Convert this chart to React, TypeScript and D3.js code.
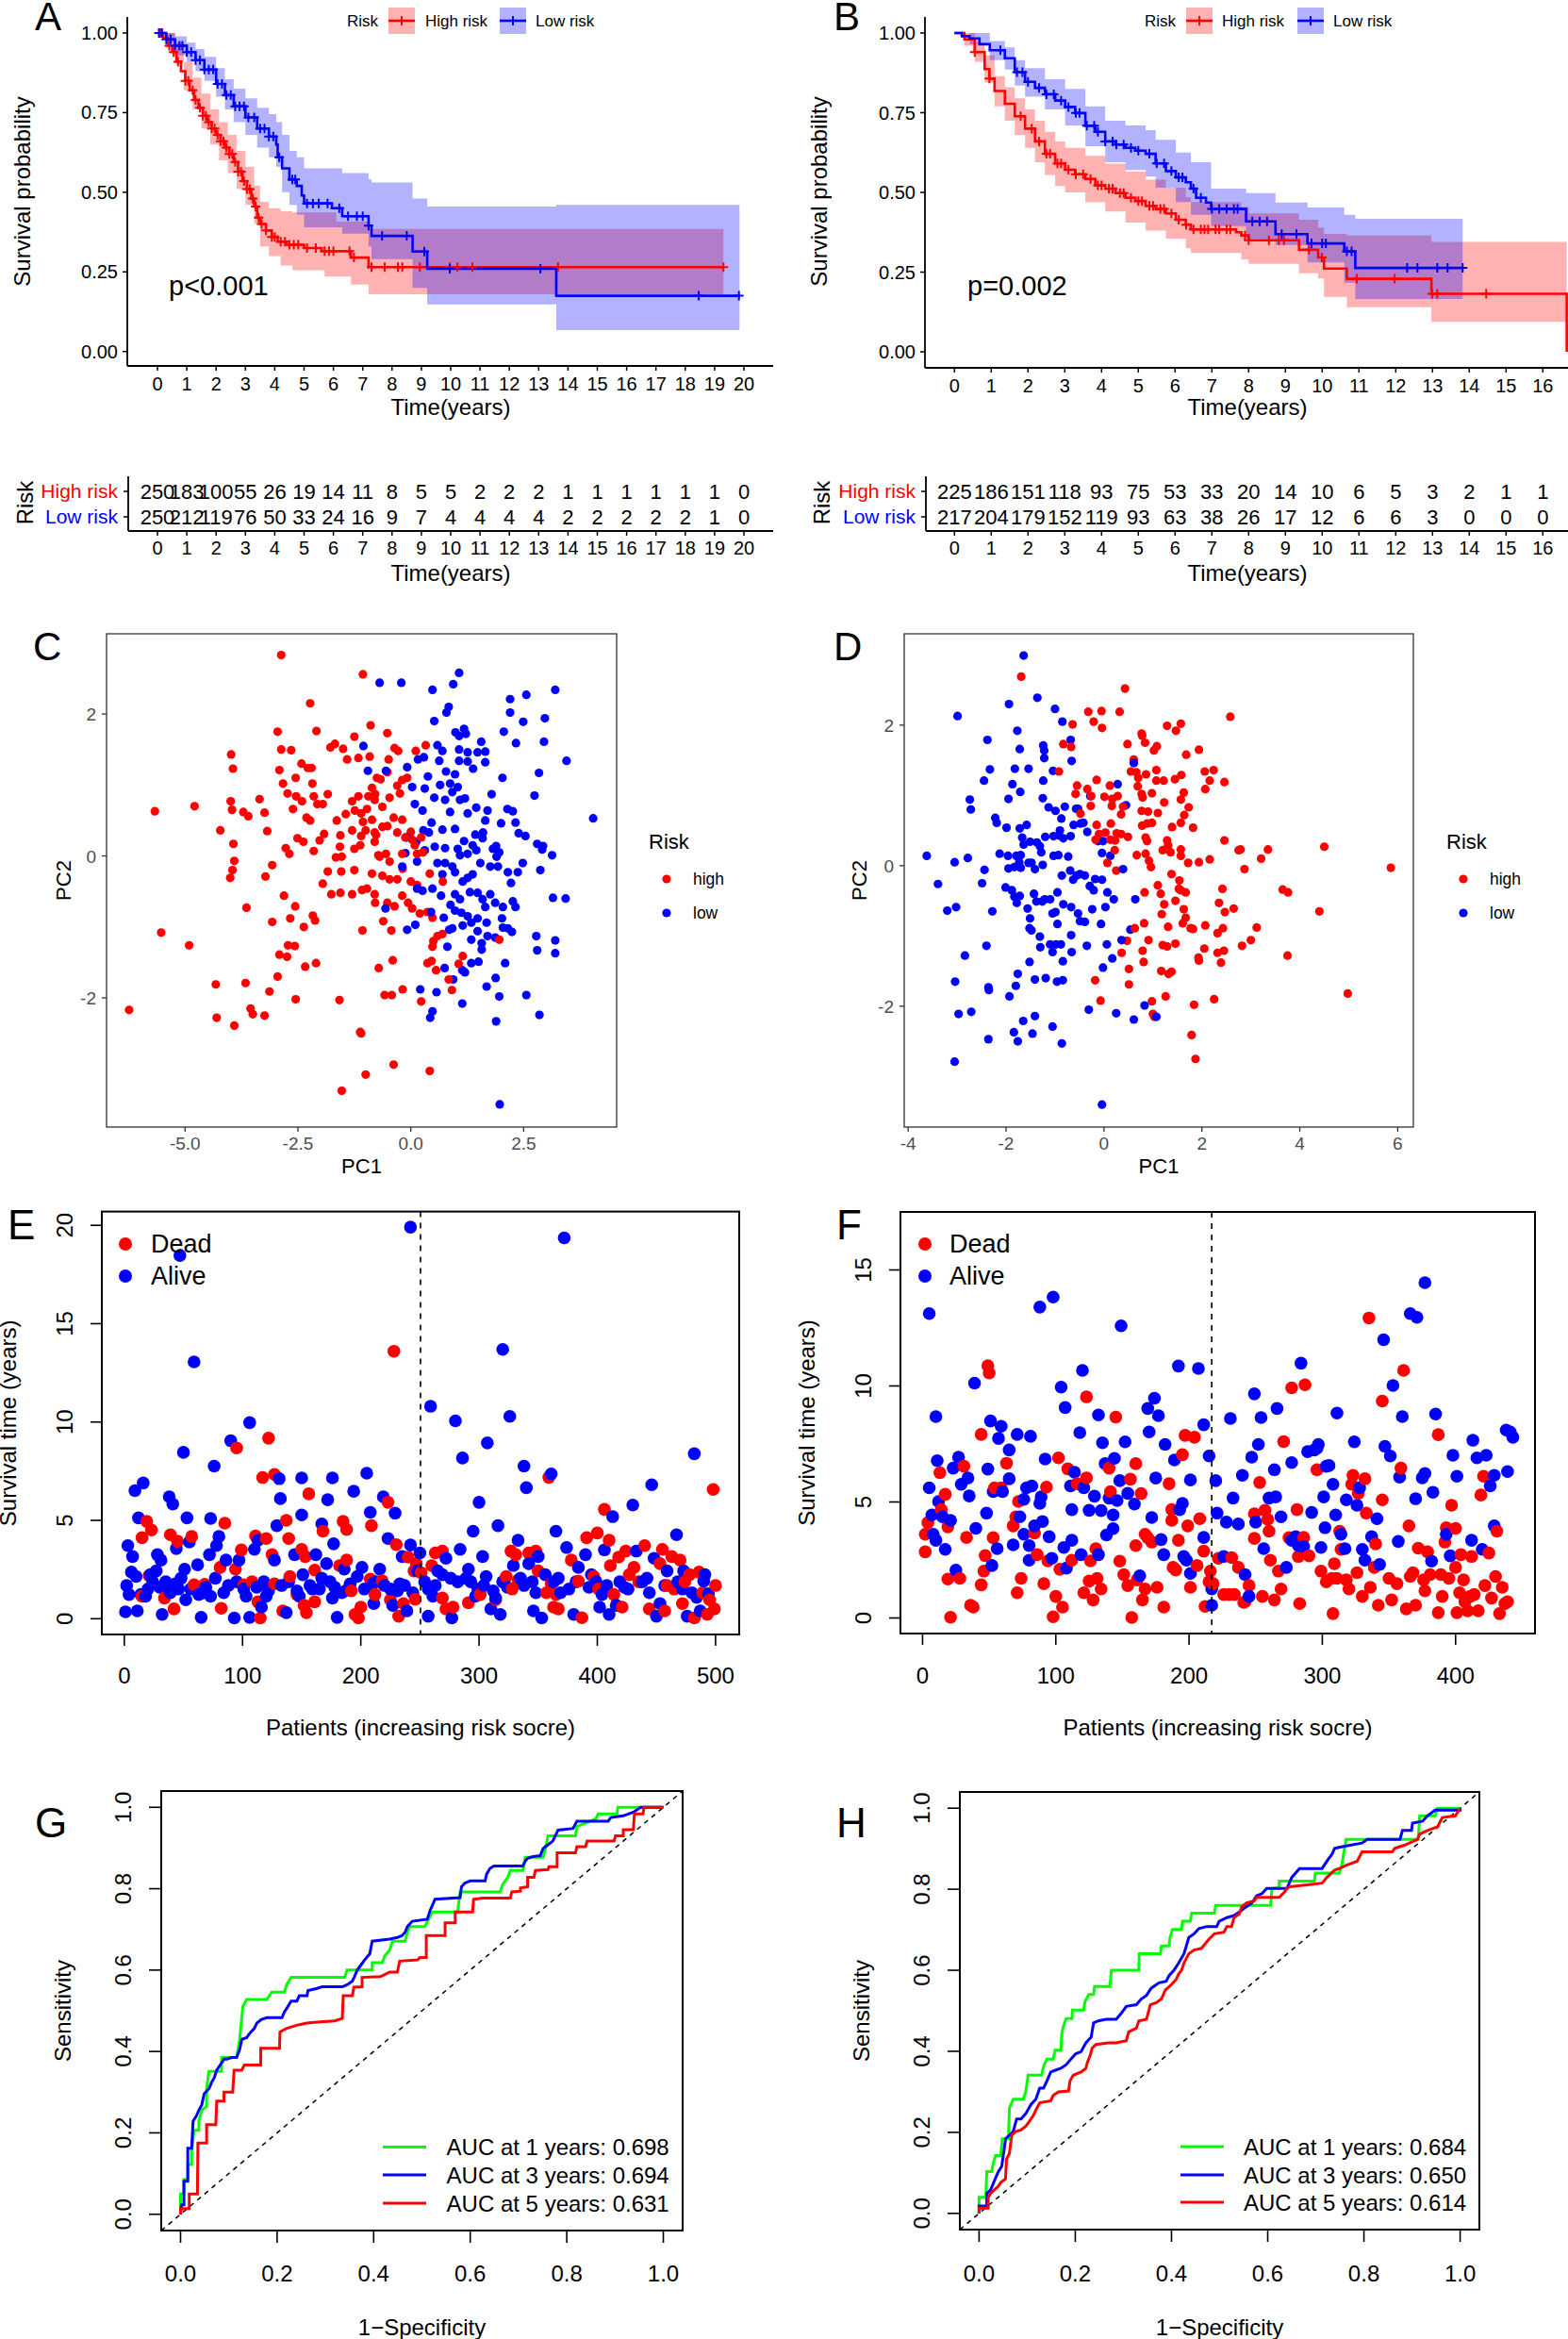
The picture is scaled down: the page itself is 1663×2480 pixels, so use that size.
import React from "react";
import * as d3 from "d3";

const FONT = '"Liberation Sans", Arial, Helvetica, sans-serif';
const RED = "#FF0000";
const BLUE = "#0000FF";
const GREEN = "#00FF00";

// ---------------- Kaplan-Meier (A, B) ----------------
const survTicks = [0, 0.25, 0.5, 0.75, 1];
const yearsA = [0, 1, 2, 3, 4, 5, 6, 7, 8, 9, 10, 11, 12, 13, 14, 15, 16, 17, 18, 19, 20];
const yearsB = [0, 1, 2, 3, 4, 5, 6, 7, 8, 9, 10, 11, 12, 13, 14, 15, 16];

const kmHighA = [[0,1],[0.2,0.985],[0.35,0.96],[0.5,0.94],[0.65,0.91],[0.8,0.88],[0.95,0.85],[1.1,0.82],[1.25,0.79],[1.4,0.765],[1.55,0.74],[1.7,0.72],[1.85,0.7],[2.0,0.68],[2.15,0.66],[2.3,0.64],[2.45,0.62],[2.6,0.595],[2.75,0.565],[2.9,0.535],[3.05,0.51],[3.2,0.48],[3.3,0.455],[3.4,0.42],[3.5,0.4],[3.7,0.38],[3.9,0.36],[4.1,0.345],[4.4,0.335],[5.0,0.325],[5.6,0.315],[6.6,0.295],[7.2,0.265],[19.3,0.265]];
const kmLowA = [[0,1],[0.3,0.98],[0.6,0.96],[1.0,0.94],[1.3,0.915],[1.6,0.885],[2.0,0.84],[2.3,0.805],[2.6,0.77],[3.0,0.735],[3.4,0.7],[3.8,0.675],[4.05,0.65],[4.1,0.61],[4.25,0.575],[4.5,0.54],[4.75,0.52],[4.92,0.49],[5.0,0.465],[5.95,0.45],[6.3,0.425],[7.2,0.395],[7.3,0.363],[8.7,0.314],[9.2,0.26],[13.6,0.175],[19.85,0.175]];
const ciHighA = [[0,1,1],[0.3,0.97,1.0],[0.6,0.91,0.97],[0.9,0.82,0.91],[1.2,0.76,0.86],[1.5,0.7,0.81],[1.8,0.65,0.76],[2.1,0.6,0.72],[2.4,0.56,0.68],[2.7,0.51,0.63],[3.0,0.46,0.58],[3.3,0.4,0.52],[3.5,0.33,0.47],[3.8,0.3,0.45],[4.2,0.27,0.44],[4.6,0.255,0.437],[5.7,0.235,0.437],[6.1,0.235,0.408],[6.6,0.21,0.408],[7.2,0.18,0.385],[19.3,0.18,0.385]];
const ciLowA = [[0,1,1],[0.3,0.96,1.0],[0.6,0.93,0.99],[1.0,0.91,0.97],[1.3,0.88,0.95],[1.6,0.85,0.925],[2.0,0.8,0.89],[2.3,0.76,0.855],[2.6,0.72,0.825],[3.0,0.68,0.795],[3.4,0.64,0.765],[3.8,0.61,0.745],[4.05,0.58,0.72],[4.25,0.5,0.68],[4.5,0.46,0.63],[4.75,0.43,0.61],[5.0,0.39,0.575],[6.3,0.37,0.56],[7.2,0.33,0.54],[7.3,0.29,0.531],[8.7,0.2,0.48],[9.2,0.148,0.455],[13.6,0.067,0.46],[19.85,0.067,0.46]];
const censHighA = [0.1,0.15,0.4,0.55,0.7,0.95,1.05,1.2,1.3,1.45,1.55,1.65,1.75,1.85,1.95,2.05,2.15,2.25,2.35,2.45,2.55,2.65,2.75,2.85,2.95,3.05,3.15,3.25,3.35,3.45,3.55,3.7,3.9,4.0,4.2,4.35,4.5,4.65,4.8,5.1,5.4,5.7,5.85,6.0,6.55,6.7,7.3,7.75,8.2,8.35,8.95,9.97,10.23,10.74,13.66,19.3];
const censLowA = [0.05,0.15,0.3,0.45,0.6,0.75,0.85,1.0,1.15,1.3,1.45,1.6,1.75,1.9,2.05,2.2,2.35,2.5,2.65,2.8,2.95,3.1,3.3,3.5,3.65,3.8,3.95,4.15,4.6,4.7,5.1,5.3,5.5,5.8,6.2,6.5,6.8,7.0,7.2,7.66,8.5,9.1,9.97,13.06,18.46,19.83];

const kmHighB = [[0,1],[0.27,0.98],[0.55,0.94],[0.82,0.887],[0.95,0.857],[1.09,0.818],[1.37,0.778],[1.64,0.739],[1.92,0.7],[2.19,0.66],[2.46,0.621],[2.74,0.591],[3.01,0.571],[3.28,0.557],[3.56,0.542],[3.83,0.522],[4.1,0.512],[4.38,0.498],[4.65,0.483],[4.92,0.473],[5.2,0.458],[5.47,0.448],[5.75,0.434],[6.02,0.414],[6.29,0.399],[6.43,0.384],[7.66,0.375],[7.8,0.365],[8.0,0.35],[9.37,0.32],[9.89,0.296],[10.05,0.261],[10.67,0.229],[12.97,0.182],[16.65,0.0]];
const kmLowB = [[0,1],[0.2,0.99],[0.41,0.983],[0.68,0.965],[0.96,0.946],[1.37,0.921],[1.64,0.877],[1.92,0.847],[2.19,0.828],[2.46,0.808],[2.74,0.788],[3.01,0.768],[3.28,0.749],[3.56,0.709],[3.83,0.69],[4.1,0.66],[4.38,0.65],[4.65,0.64],[4.92,0.631],[5.2,0.621],[5.47,0.591],[5.75,0.567],[6.02,0.547],[6.29,0.532],[6.43,0.512],[6.57,0.483],[6.84,0.468],[6.98,0.448],[7.93,0.409],[8.73,0.369],[9.6,0.34],[10.6,0.315],[10.9,0.263],[13.82,0.263]];
const ciHighB = [[0,1,1],[0.27,0.96,1.0],[0.55,0.91,0.97],[0.82,0.845,0.93],[1.09,0.77,0.865],[1.37,0.725,0.83],[1.64,0.68,0.795],[1.92,0.64,0.76],[2.19,0.595,0.725],[2.46,0.555,0.69],[2.74,0.52,0.66],[3.01,0.5,0.64],[3.56,0.47,0.615],[4.1,0.44,0.59],[4.65,0.405,0.565],[5.2,0.38,0.54],[5.75,0.355,0.515],[6.29,0.325,0.485],[6.43,0.31,0.47],[7.8,0.29,0.455],[8.0,0.276,0.434],[9.37,0.246,0.414],[9.89,0.23,0.39],[10.05,0.172,0.37],[10.67,0.14,0.365],[12.97,0.094,0.345],[16.65,0.094,0.345]];
const ciLowB = [[0,1,1],[0.41,0.965,1.0],[0.96,0.915,0.975],[1.37,0.885,0.955],[1.64,0.835,0.915],[1.92,0.8,0.89],[2.46,0.76,0.855],[3.01,0.71,0.825],[3.56,0.645,0.77],[4.1,0.595,0.725],[4.65,0.57,0.71],[5.2,0.55,0.695],[5.47,0.515,0.665],[6.02,0.47,0.625],[6.43,0.43,0.595],[6.98,0.394,0.512],[7.93,0.355,0.498],[8.73,0.335,0.468],[9.6,0.28,0.453],[10.6,0.217,0.43],[10.9,0.166,0.417],[13.82,0.166,0.417]];
const censHighB = [0.55,0.95,1.8,2.1,2.3,2.5,2.6,2.8,2.9,3.1,3.3,3.5,3.7,3.9,4.0,4.2,4.3,4.5,4.6,4.8,5.0,5.1,5.3,5.4,5.6,5.7,5.9,6.1,6.3,6.5,6.7,6.8,6.9,7.1,7.2,7.4,7.5,7.9,8.0,8.55,8.82,8.96,9.64,9.99,10.94,11.97,12.99,13.13,14.46];
const censLowB = [1.25,1.7,1.85,2.0,2.3,2.5,2.7,2.9,3.1,3.3,3.4,3.6,3.8,3.9,4.1,4.3,4.4,4.6,4.8,5.0,5.3,5.5,5.7,5.9,6.1,6.2,6.5,6.7,7.0,7.2,7.4,7.6,7.7,8.1,8.3,8.5,8.9,9.3,9.71,10.0,10.1,10.67,10.8,12.31,12.59,13.13,13.41,13.82];

const riskHighA = [250,183,100,55,26,19,14,11,8,5,5,2,2,2,1,1,1,1,1,1,0];
const riskLowA = [250,212,119,76,50,33,24,16,9,7,4,4,4,4,2,2,2,2,2,1,0];
const riskHighB = [225,186,151,118,93,75,53,33,20,14,10,6,5,3,2,1,1];
const riskLowB = [217,204,179,152,119,93,63,38,26,17,12,6,6,3,0,0,0];

// ---------------- PCA (C, D) ----------------
const pcaHighC = [[-2.87,2.83],[-1.06,2.56],[-2.23,2.15],[-2.09,1.76],[-2.95,1.75],[-0.89,1.84],[-0.52,1.73],[-2.87,1.5],[-2.65,1.49],[-1.78,1.53],[-1.68,1.58],[-1.5,1.51],[-1.25,1.68],[0.33,1.56],[-0.36,1.52],[-0.28,1.48],[0.11,1.48],[-3.98,1.43],[-3.94,1.23],[-2.42,1.3],[-2.28,1.24],[-2.2,1.24],[-2.91,1.21],[-2.55,1.1],[-2.83,1.02],[-2.18,1.02],[-2.73,0.88],[-2.54,0.84],[-2.41,0.77],[-2.15,0.84],[-1.84,0.87],[-2.07,0.73],[-1.95,0.73],[-1.41,1.36],[-1.16,1.38],[-0.91,1.4],[-0.49,1.36],[-0.52,1.18],[-0.75,1.1],[-0.67,1.08],[-0.86,0.96],[-0.94,0.84],[-0.79,0.87],[-1.16,0.84],[-1.3,0.77],[-1.24,0.64],[-0.97,0.66],[-0.8,0.79],[-0.63,0.69],[-0.47,0.82],[-0.24,0.88],[-0.19,1.07],[-0.08,1.1],[-0.3,0.99],[-3.99,0.77],[-3.96,0.65],[-4.79,0.7],[-5.67,0.63],[-3.35,0.8],[-3.71,0.62],[-3.6,0.56],[-3.24,0.61],[-2.61,0.66],[-2.31,0.54],[-2.23,0.5],[-4.22,0.36],[-3.18,0.35],[-3.93,0.17],[-3.91,-0.07],[-3.95,-0.2],[-4.0,-0.31],[-3.07,-0.13],[-3.22,-0.29],[-2.77,0.11],[-2.69,0.03],[-2.51,0.25],[-2.38,0.2],[-2.15,0.07],[-2.02,0.22],[-1.92,0.31],[-1.64,0.5],[-1.44,0.59],[-1.1,0.6],[-1.06,0.48],[-0.86,0.51],[-0.63,0.41],[-0.38,0.54],[-0.19,0.51],[-1.0,0.36],[-0.8,0.33],[-0.52,0.42],[-0.3,0.33],[0.0,0.34],[-1.56,0.29],[-1.3,0.36],[-1.1,0.28],[-1.12,0.15],[-0.8,0.2],[-0.77,0.3],[-0.12,0.26],[0.03,0.23],[0.23,0.26],[0.09,0.15],[-1.57,0.13],[-1.25,0.1],[-1.66,-0.02],[-1.53,-0.01],[-0.72,0.01],[-0.55,0.03],[-0.47,-0.08],[-0.69,-0.01],[-0.19,0.03],[0.14,0.03],[0.27,0.05],[-1.84,-0.22],[-1.54,-0.22],[-1.25,-0.2],[-0.86,-0.25],[-0.63,-0.28],[-0.47,-0.33],[-0.3,-0.33],[-0.18,-0.18],[0.0,-0.36],[0.14,-0.41],[0.42,-0.25],[0.71,-0.36],[-1.95,-0.39],[-1.76,-0.54],[-1.56,-0.52],[-1.3,-0.54],[-1.08,-0.48],[-0.97,-0.46],[-0.8,-0.54],[-0.79,-0.66],[-0.52,-0.66],[-0.36,-0.71],[-0.19,-0.56],[-0.06,-0.66],[0.03,-0.74],[0.2,-0.81],[0.37,-0.79],[0.48,-0.87],[-3.64,-0.73],[-2.81,-0.56],[-2.56,-0.71],[-2.67,-0.88],[-3.07,-0.93],[-2.37,-1.0],[-2.17,-0.84],[-2.12,-0.91],[-1.07,-1.05],[-0.61,-0.92],[-0.43,-1.05],[-5.53,-1.08],[-4.91,-1.26],[-4.32,-1.81],[-3.66,-1.79],[-2.91,-1.39],[-2.74,-1.42],[-2.72,-1.26],[-2.57,-1.27],[-2.95,-1.7],[-3.13,-1.91],[-2.55,-2.02],[-2.34,-1.56],[-2.1,-1.51],[-0.71,-1.58],[-0.4,-1.47],[-0.58,-1.96],[-0.42,-1.96],[-0.18,-1.88],[0.23,-2.05],[0.48,-1.28],[0.5,-1.2],[0.59,-1.13],[0.7,-1.1],[0.37,-1.51],[0.46,-1.48],[0.56,-1.61],[0.84,-1.74],[0.91,-1.89],[1.06,-1.52],[1.15,-1.41],[-6.24,-2.17],[-4.3,-2.28],[-3.91,-2.39],[-3.55,-2.15],[-3.5,-2.23],[-3.24,-2.25],[-1.58,-2.03],[-1.12,-2.48],[-1.1,-2.5],[-1.0,-3.08],[-0.38,-2.94],[0.42,-3.03],[-1.53,-3.31],[1.96,-1.18]];
const pcaLowC = [[1.07,2.58],[-0.21,2.44],[-0.69,2.44],[0.94,2.42],[0.48,2.34],[3.2,2.34],[2.56,2.27],[2.2,2.21],[0.84,2.1],[0.79,2.02],[0.52,1.9],[2.2,2.02],[2.49,1.89],[2.97,1.94],[2.06,1.75],[0.99,1.74],[1.18,1.79],[1.07,1.69],[1.22,1.72],[1.56,1.61],[2.33,1.59],[2.95,1.61],[-1.05,1.55],[0.59,1.56],[0.7,1.48],[1.07,1.5],[1.26,1.46],[1.48,1.46],[1.65,1.47],[0.29,1.39],[0.63,1.34],[1.07,1.34],[1.26,1.33],[1.65,1.32],[1.38,1.23],[0.16,1.36],[-0.08,1.25],[0.78,1.19],[0.98,1.15],[-0.95,1.2],[-0.55,1.2],[3.45,1.34],[2.84,1.17],[2.03,1.1],[0.38,1.12],[0.31,0.95],[0.03,0.97],[0.65,1.0],[0.87,1.02],[1.04,0.97],[0.92,0.9],[0.76,0.79],[1.09,0.79],[1.2,0.81],[0.52,0.82],[0.09,0.73],[0.26,0.64],[0.46,0.47],[0.87,0.62],[1.26,0.6],[1.45,0.68],[1.79,0.87],[2.74,0.85],[2.14,0.66],[2.26,0.63],[2.32,0.47],[2.0,0.46],[1.7,0.64],[1.65,0.5],[4.04,0.53],[2.39,0.32],[2.54,0.28],[2.8,0.17],[2.93,0.14],[2.91,0.09],[3.13,0.01],[1.89,0.14],[1.96,0.05],[1.82,0.1],[1.6,0.33],[1.59,0.25],[1.43,0.3],[1.37,0.15],[1.18,0.21],[0.98,0.38],[1.04,0.1],[0.76,0.11],[0.53,0.13],[0.7,0.37],[0.4,0.33],[0.31,0.08],[0.12,0.2],[0.28,0.36],[-0.1,0.26],[-0.12,0.04],[0.14,-0.08],[0.59,-0.1],[0.76,-0.1],[0.92,-0.15],[1.09,0.01],[1.26,0.03],[1.45,0.08],[1.54,-0.1],[1.76,-0.15],[1.9,-0.01],[1.93,-0.15],[2.15,-0.23],[2.37,-0.23],[2.48,-0.1],[2.87,-0.2],[2.22,-0.38],[1.37,-0.26],[1.26,-0.31],[1.15,-0.36],[0.98,-0.23],[0.7,-0.26],[0.48,-0.46],[0.26,-0.49],[0.67,-0.56],[0.98,-0.54],[1.09,-0.61],[1.31,-0.51],[1.48,-0.52],[1.59,-0.61],[1.65,-0.72],[1.87,-0.66],[1.76,-0.54],[2.04,-0.72],[2.26,-0.64],[2.32,-0.72],[3.15,-0.59],[3.43,-0.6],[0.14,-0.46],[-0.19,-0.15],[0.88,-0.69],[0.98,-0.77],[1.12,-0.8],[1.26,-0.85],[1.48,-0.88],[1.68,-0.94],[2.02,-0.88],[1.34,-0.94],[0.73,-0.87],[0.45,-0.79],[0.1,-0.97],[-0.08,-1.04],[0.85,-1.04],[0.92,-1.02],[1.15,-0.98],[1.48,-1.06],[1.7,-1.13],[1.87,-1.15],[2.04,-1.01],[2.15,-1.02],[2.24,-1.07],[2.78,-1.13],[2.8,-1.33],[3.2,-1.19],[3.2,-1.37],[1.34,-1.18],[1.57,-1.23],[1.57,-1.32],[1.5,-1.49],[1.34,-1.51],[1.2,-1.64],[1.14,-1.61],[0.94,-1.74],[0.75,-1.58],[0.81,-1.28],[1.68,-1.84],[1.88,-1.72],[2.09,-1.51],[1.96,-1.98],[2.56,-1.96],[2.85,-2.24],[1.89,-2.33],[0.21,-1.88],[0.57,-1.92],[1.14,-2.08],[0.48,-2.19],[0.43,-2.28],[1.97,-3.5],[-0.56,-0.74]];
const pcaHighD = [[-1.69,2.69],[0.43,2.52],[-0.32,2.19],[-0.05,2.2],[0.32,2.19],[-0.64,2.01],[-0.21,2.05],[-0.04,1.96],[1.29,1.99],[1.57,2.02],[1.47,1.92],[0.77,1.88],[0.78,1.85],[0.48,1.73],[-0.83,1.73],[-0.67,1.69],[0.84,1.75],[1.02,1.64],[1.08,1.7],[1.94,1.65],[1.68,1.58],[2.58,2.12],[-0.92,1.34],[0.61,1.51],[0.55,1.34],[0.66,1.33],[0.7,1.25],[0.86,1.3],[1.07,1.36],[0.69,1.13],[1.07,1.21],[1.22,1.21],[1.45,1.23],[1.58,1.29],[2.06,1.34],[2.24,1.36],[2.16,1.21],[2.46,1.19],[-0.55,1.14],[-0.34,1.09],[-0.15,1.22],[-0.58,1.02],[-0.26,0.99],[0.01,0.98],[0.17,0.95],[0.28,0.99],[-0.27,0.85],[0.16,0.85],[0.35,0.73],[0.39,0.84],[0.77,1.02],[0.79,0.97],[0.98,1.03],[1.23,0.9],[1.57,0.94],[1.63,1.04],[2.07,1.09],[0.77,0.78],[0.9,0.77],[0.98,0.61],[1.1,0.75],[1.39,0.55],[1.57,0.61],[1.64,0.72],[1.73,0.83],[1.82,0.54],[0.78,0.57],[0.88,0.6],[-0.15,0.58],[0.14,0.6],[0.03,0.47],[-0.1,0.45],[0.26,0.46],[0.35,0.45],[0.49,0.41],[-0.17,0.37],[0.13,0.37],[0.23,0.36],[0.85,0.4],[0.88,0.35],[1.29,0.36],[1.31,0.29],[0.85,0.17],[0.92,0.07],[0.96,-0.02],[0.67,0.15],[0.07,0.04],[0.25,-0.07],[0.22,0.22],[1.2,0.22],[1.36,0.19],[1.57,0.23],[1.72,0.04],[1.57,0.14],[1.94,0.05],[2.16,0.09],[2.46,0.36],[2.79,0.23],[2.75,0.22],[3.35,0.23],[3.21,0.1],[2.87,-0.05],[4.5,0.27],[5.86,-0.03],[1.38,-0.12],[1.54,-0.21],[1.53,-0.33],[1.57,-0.35],[1.67,-0.38],[1.1,-0.28],[0.83,-0.38],[1.16,-0.4],[1.23,-0.55],[1.46,-0.5],[1.63,-0.62],[1.67,-0.74],[1.61,-0.82],[1.77,-0.89],[1.18,-0.69],[0.82,-0.82],[1.31,-0.87],[0.63,-0.89],[0.47,-1.07],[0.91,-1.06],[1.2,-1.13],[1.29,-1.15],[1.46,-1.11],[1.82,-0.9],[2.07,-0.85],[2.32,-0.96],[2.43,-0.89],[2.42,-0.33],[2.35,-0.53],[2.47,-0.66],[2.65,-0.61],[3.65,-0.34],[3.76,-0.38],[4.4,-0.65],[3.12,-0.88],[3.0,-1.06],[2.82,-1.14],[3.75,-1.28],[2.32,-1.24],[2.45,-1.21],[2.39,-1.38],[2.05,-1.18],[1.93,-1.31],[1.94,-1.35],[1.38,-1.51],[1.17,-1.5],[1.32,-1.54],[0.79,-1.21],[0.81,-1.37],[0.51,-1.47],[0.36,-1.24],[-0.18,-1.63],[0.51,-1.69],[-0.07,-1.92],[0.98,-1.93],[1.0,-2.11],[1.03,-2.15],[1.26,-1.86],[1.84,-1.98],[2.25,-1.9],[1.79,-2.41],[1.87,-2.75],[4.98,-1.82],[-0.48,0.74],[0.12,1.14]];
const pcaLowD = [[-1.64,2.99],[-1.36,2.39],[-1.94,2.3],[-1.0,2.23],[-0.85,2.05],[-2.99,2.13],[-1.77,1.92],[-2.38,1.79],[-0.68,1.79],[-1.72,1.66],[-1.24,1.71],[-1.22,1.64],[-1.22,1.53],[-0.66,1.49],[-2.33,1.37],[-1.82,1.38],[-1.54,1.38],[-2.45,1.21],[-1.87,1.16],[-1.24,1.21],[-1.04,1.35],[-1.71,1.05],[-1.95,0.95],[-2.74,0.94],[-2.72,0.8],[-1.25,0.96],[-1.13,0.83],[-0.99,0.78],[-0.87,0.67],[-0.8,0.84],[-0.57,0.81],[-0.53,0.81],[-0.28,0.99],[0.28,1.16],[0.61,1.46],[0.45,0.86],[-2.22,0.68],[-2.19,0.61],[-1.99,0.54],[-1.72,0.53],[-1.58,0.58],[-1.67,0.4],[-1.64,0.3],[-1.51,0.34],[-1.37,0.33],[-1.31,0.28],[-1.28,0.19],[-1.2,0.41],[-1.03,0.42],[-0.92,0.43],[-0.9,0.5],[-0.83,0.39],[-0.68,0.42],[-0.62,0.58],[-0.48,0.6],[-0.42,0.61],[-0.34,0.48],[-0.12,0.35],[-0.02,0.35],[-0.04,0.18],[0.13,0.14],[-3.62,0.14],[-3.05,0.05],[-2.78,0.11],[-2.44,-0.06],[-2.13,0.17],[-1.96,0.14],[-1.95,-0.04],[-1.83,-0.02],[-1.79,0.14],[-1.7,0.15],[-1.73,0.05],[-1.7,-0.03],[-1.54,0.04],[-1.48,0.04],[-1.41,-0.05],[-1.25,0.01],[-1.03,0.14],[-0.93,0.15],[-0.73,0.13],[-0.86,-0.14],[-0.69,-0.07],[-0.63,-0.2],[-0.56,-0.14],[-0.49,-0.12],[-0.39,-0.14],[-0.29,-0.29],[-0.21,-0.35],[-0.18,-0.19],[-0.04,-0.2],[0.07,-0.38],[0.2,-0.48],[0.39,-0.05],[0.64,-0.48],[-3.39,-0.26],[-2.49,-0.25],[-2.01,-0.31],[-1.88,-0.35],[-1.83,-0.44],[-1.72,-0.43],[-1.43,-0.4],[-1.38,-0.51],[-1.26,-0.51],[-1.21,-0.48],[-1.1,-0.48],[-1.05,-0.68],[-0.99,-0.66],[-0.95,-0.38],[-0.83,-0.55],[-0.67,-0.59],[-0.53,-0.68],[-0.49,-0.79],[-0.39,-0.8],[-0.24,-0.62],[-0.06,-0.83],[0.03,-0.59],[0.54,-0.91],[-3.2,-0.64],[-3.02,-0.59],[-2.28,-0.65],[-1.78,-0.53],[-1.56,-0.61],[-1.51,-0.75],[-1.52,-0.89],[-1.48,-0.92],[-0.95,-0.83],[-1.31,-1.01],[-1.3,-1.16],[-1.1,-1.12],[-1.05,-1.23],[-0.98,-1.12],[-0.88,-1.12],[-0.84,-1.36],[-0.67,-0.99],[-0.66,-1.23],[-0.35,-1.14],[0.06,-1.12],[0.17,-1.32],[0.36,-1.06],[-0.02,-1.45],[-2.4,-1.14],[-2.84,-1.28],[-1.52,-1.37],[-1.76,-1.54],[-1.8,-1.71],[-1.93,-1.86],[-1.41,-1.62],[-1.19,-1.6],[-0.96,-1.65],[-0.84,-1.63],[-3.04,-1.65],[-2.36,-1.73],[-2.35,-1.77],[-2.97,-2.11],[-2.71,-2.08],[-1.65,-2.21],[-1.41,-2.14],[-1.05,-2.29],[-1.84,-2.37],[-1.76,-2.5],[-1.46,-2.39],[-0.86,-2.53],[-2.36,-2.47],[-3.05,-2.79],[-0.31,-2.05],[0.25,-2.1],[0.61,-2.19],[0.83,-1.99],[1.07,-2.15],[-0.04,-3.4]];

// ---------------- Risk score vs survival (E, F) [patient index, years] ----------------
const eDead = [[15,4.12],[19,4.95],[23,4.51],[21,2.19],[15,1.14],[34,1.05],[39,4.27],[42,0.5],[45,3.94],[57,4.18],[59,1.73],[68,1.75],[81,2.61],[82,0.53],[85,4.86],[94,2.52],[95,8.68],[99,3.5],[101,1.73],[108,1.88],[111,4.21],[113,0.86],[115,0.04],[117,7.18],[120,4.08],[122,9.18],[125,3.26],[127,1.78],[127,7.34],[134,0.4],[137,5.0],[139,4.08],[140,2.15],[146,1.23],[150,3.53],[153,3.16],[156,6.35],[154,0.31],[152,0.68],[161,2.47],[161,0.86],[168,4.45],[182,2.7],[185,4.95],[188,4.54],[188,2.98],[192,1.42],[195,0.22],[198,0.04],[200,0.59],[209,4.73],[208,2.02],[212,1.23],[218,1.93],[223,5.92],[225,0.96],[228,13.6],[230,3.77],[232,0.13],[236,0.77],[240,3.13],[245,2.43],[247,2.8],[246,0.99],[251,2.34],[260,2.7],[263,3.35],[269,3.44],[269,1.05],[272,0.5],[278,0.59],[291,0.81],[301,1.23],[314,0.96],[323,2.15],[327,3.44],[331,3.26],[333,1.97],[328,1.51],[342,3.35],[348,3.44],[350,2.43],[357,1.32],[361,1.78],[363,0.59],[367,0.5],[359,7.19],[365,1.23],[378,2.98],[384,1.91],[387,0.05],[391,4.12],[397,2.15],[401,1.51],[400,4.36],[406,5.56],[410,3.99],[411,2.7],[414,1.23],[418,3.13],[421,0.59],[424,3.44],[427,2.24],[431,2.61],[435,1.88],[440,3.72],[444,0.5],[453,2.8],[455,3.53],[457,0.4],[459,1.69],[463,3.16],[465,1.51],[470,2.98],[472,0.77],[474,1.88],[478,2.24],[482,0.04],[486,2.37],[489,1.32],[493,0.22],[495,0.96],[498,6.57],[499,0.5],[500,1.69]];
const eAlive = [[1,0.35],[2,1.69],[3,3.72],[4,1.23],[6,2.37],[7,3.16],[9,6.51],[10,2.15],[12,5.13],[11,0.4],[16,6.9],[18,1.14],[22,2.24],[27,2.43],[28,3.26],[31,2.98],[32,0.22],[33,1.69],[38,6.2],[41,5.83],[44,3.57],[46,1.51],[47,18.47],[50,8.46],[51,2.52],[52,0.96],[53,5.13],[55,3.9],[59,13.06],[62,2.74],[65,0.07],[67,1.32],[72,3.26],[73,5.1],[76,7.76],[78,3.72],[80,4.18],[86,2.98],[90,9.05],[93,0.04],[95,1.88],[97,2.98],[101,1.51],[106,9.97],[106,0.07],[110,3.53],[113,3.99],[116,0.59],[122,1.42],[127,2.98],[129,4.73],[131,7.12],[132,6.11],[137,0.31],[144,3.26],[146,1.42],[150,5.28],[150,7.16],[151,2.24],[159,1.51],[162,3.26],[167,2.06],[167,4.82],[171,2.8],[172,6.05],[176,1.05],[176,7.16],[177,3.81],[180,0.07],[186,2.52],[188,1.45],[194,6.48],[197,2.15],[201,2.61],[205,7.4],[208,5.41],[211,0.77],[213,1.88],[216,2.52],[219,6.2],[223,4.08],[227,0.68],[229,5.37],[231,1.42],[235,3.16],[239,0.4],[242,19.91],[242,3.75],[248,2.43],[250,3.35],[254,1.88],[257,0.13],[259,10.8],[261,1.14],[265,2.43],[272,3.07],[277,0.04],[280,10.06],[284,3.53],[286,8.17],[289,2.06],[291,2.52],[295,4.45],[297,1.14],[300,5.92],[303,3.16],[306,2.15],[307,8.94],[310,0.5],[314,1.05],[316,4.73],[318,0.22],[320,13.69],[320,1.88],[326,10.29],[329,2.7],[333,3.99],[335,2.06],[338,7.76],[340,6.66],[342,2.8],[346,0.4],[350,3.16],[353,0.04],[356,2.24],[361,7.36],[363,1.88],[365,4.45],[369,1.32],[372,19.36],[374,3.62],[380,0.22],[384,2.61],[390,3.26],[395,2.24],[399,1.88],[402,0.59],[406,3.5],[410,0.22],[413,5.19],[416,0.68],[423,1.6],[430,5.78],[433,3.44],[438,1.88],[444,1.32],[446,6.81],[448,3.07],[450,0.13],[453,0.77],[459,2.43],[467,4.27],[472,1.51],[473,2.43],[476,0.13],[482,8.39],[484,1.09],[487,0.4],[490,1.91],[494,1.27],[14,1.23],[20,1.51],[24,1.88],[30,1.6],[35,1.88],[39,1.32],[43,1.78],[48,2.06],[56,1.51],[63,1.23],[69,1.6],[73,1.14],[77,2.06],[84,1.32],[88,1.69],[103,1.14],[112,1.6],[118,1.88],[120,1.14],[133,1.69],[139,1.88],[148,1.14],[157,1.69],[165,1.51],[174,1.88],[178,1.6],[184,1.32],[191,1.78],[203,1.51],[210,1.78],[220,1.69],[225,1.51],[233,1.78],[237,1.69],[244,1.32],[257,1.51],[263,1.69],[269,2.24],[276,2.06],[282,1.88],[293,1.88],[299,1.51],[304,1.69],[312,1.42],[324,1.6],[338,1.69],[345,1.88],[348,1.32],[367,2.06],[376,1.51],[382,1.88],[393,1.6],[404,1.23],[408,1.69],[419,1.88],[426,1.51],[442,2.06],[457,1.69],[468,1.88],[480,1.32],[491,2.24]];
const fDead = [[2,2.85],[2,3.61],[4,4.11],[13,6.26],[14,4.67],[17,5.33],[19,3.93],[19,1.68],[21,0.03],[28,1.71],[31,6.54],[33,3.47],[36,0.55],[38,0.47],[44,7.91],[44,1.43],[46,2.02],[47,2.69],[49,10.87],[50,10.56],[53,3.46],[54,5.61],[59,5.61],[63,6.67],[68,3.97],[70,4.36],[71,1.09],[72,5.02],[74,1.71],[84,3.66],[86,2.73],[91,1.48],[94,2.46],[93,5.64],[98,0.05],[100,0.93],[102,6.9],[103,2.1],[105,0.47],[109,6.43],[112,2.49],[116,5.79],[121,1.09],[123,9.53],[123,6.04],[125,1.59],[126,2.46],[128,0.78],[130,2.99],[131,1.71],[134,1.25],[140,6.46],[141,5.45],[145,8.66],[148,2.45],[151,1.87],[154,1.4],[156,5.98],[157,0.02],[160,3.12],[161,1.64],[160,6.65],[164,5.36],[165,0.78],[167,1.25],[167,3.61],[169,3.46],[172,3.27],[176,1.32],[181,0.47],[185,5.79],[187,4.67],[187,4.21],[188,2.18],[190,2.07],[192,3.35],[195,7.04],[197,7.87],[199,3.97],[201,1.32],[204,7.79],[206,2.26],[208,4.28],[211,2.88],[212,0.5],[215,1.56],[216,2.02],[218,1.48],[222,2.57],[226,1.01],[230,1.01],[232,2.6],[234,1.01],[237,2.18],[241,0.67],[242,0.7],[245,1.4],[249,4.49],[249,3.43],[253,5.84],[255,0.93],[257,4.64],[259,4.25],[260,3.74],[261,2.49],[264,0.78],[267,2.02],[269,1.25],[271,7.6],[275,3.46],[277,9.92],[281,4.67],[282,2.65],[283,0.62],[286,3.47],[287,10.05],[290,2.68],[296,6.39],[299,2.02],[303,1.56],[307,1.71],[308,0.19],[309,2.34],[311,1.71],[313,3.74],[314,2.96],[318,1.64],[320,1.25],[322,5.76],[323,6.15],[326,1.95],[327,5.37],[330,0.93],[332,6.0],[333,4.52],[335,12.93],[336,1.32],[339,2.18],[340,3.19],[342,0.55],[345,9.35],[345,5.09],[350,1.71],[352,0.78],[356,1.48],[359,6.46],[361,10.67],[363,0.39],[365,3.97],[366,1.79],[368,1.95],[370,0.55],[372,3.01],[376,1.64],[377,1.17],[379,2.85],[381,1.87],[387,7.9],[387,0.23],[389,1.87],[390,0.93],[392,3.27],[393,3.89],[395,1.71],[397,4.86],[400,3.86],[400,2.18],[401,0.23],[403,1.09],[404,2.73],[406,1.64],[407,0.7],[409,0.31],[411,0.93],[412,2.65],[414,1.01],[417,0.31],[419,5.3],[421,6.11],[422,1.4],[425,2.8],[427,0.86],[430,1.79],[431,3.74],[433,0.19],[435,1.32],[437,0.62],[439,0.7]];
const fAlive = [[5,13.12],[5,5.61],[7,4.44],[8,3.61],[10,3.35],[10,8.68],[11,6.78],[12,5.02],[15,4.36],[17,2.96],[21,4.21],[23,6.46],[25,2.06],[27,6.93],[29,5.76],[34,6.03],[35,5.26],[39,10.12],[40,3.86],[48,4.52],[49,6.42],[51,8.49],[52,2.26],[53,5.45],[56,2.99],[57,7.74],[59,8.26],[60,5.45],[65,6.0],[65,7.24],[68,3.15],[71,7.91],[73,4.36],[76,3.61],[76,5.11],[78,5.61],[80,3.12],[81,7.83],[80,2.49],[82,5.69],[84,3.97],[88,4.94],[88,13.4],[89,5.22],[90,4.16],[92,6.85],[95,3.5],[97,2.57],[98,13.83],[104,9.95],[106,3.04],[107,9.07],[108,2.15],[111,5.69],[112,3.35],[112,4.67],[114,6.28],[118,7.99],[119,2.73],[120,10.67],[121,5.61],[125,4.64],[129,5.25],[132,8.75],[132,2.73],[134,4.63],[135,7.55],[137,6.65],[138,3.58],[140,5.17],[143,4.44],[143,3.85],[144,6.88],[146,5.06],[148,5.92],[149,12.59],[152,7.59],[154,5.37],[159,4.91],[163,1.82],[169,9.03],[170,8.02],[172,4.33],[174,9.47],[175,6.03],[177,8.72],[179,3.38],[181,2.73],[182,7.48],[189,6.81],[192,10.86],[193,4.67],[195,4.94],[196,2.65],[198,2.49],[201,1.92],[201,5.95],[207,10.75],[211,8.33],[211,3.47],[215,6.98],[217,1.25],[217,0.55],[220,5.92],[221,4.52],[226,2.65],[228,4.13],[231,8.6],[233,5.17],[237,4.05],[240,6.15],[242,1.87],[245,0.93],[247,6.93],[249,9.66],[250,4.13],[252,7.48],[254,8.64],[256,2.99],[260,5.17],[264,6.39],[265,5.22],[266,9.03],[269,4.36],[273,2.18],[277,6.7],[277,3.35],[280,3.5],[282,3.12],[284,10.98],[286,3.08],[289,7.17],[292,4.55],[294,7.24],[296,7.32],[297,7.48],[299,3.04],[301,5.22],[302,3.89],[303,6.54],[305,6.57],[308,5.76],[310,4.44],[311,8.83],[314,3.61],[317,2.99],[318,5.09],[324,7.59],[326,4.86],[328,5.61],[330,2.96],[332,2.49],[337,3.5],[341,4.28],[343,2.31],[346,11.99],[347,7.4],[351,6.98],[353,10.02],[357,3.3],[358,6.07],[360,8.68],[366,13.12],[370,5.14],[371,12.96],[375,6.04],[377,14.45],[377,6.23],[382,2.45],[383,5.42],[385,8.79],[393,3.61],[396,2.68],[398,7.01],[401,6.11],[412,3.35],[413,7.66],[416,6.9],[420,2.96],[423,7.01],[426,5.69],[429,3.97],[429,6.15],[438,8.1],[439,6.31],[441,8.02],[443,7.79]];

// ---------------- time-dependent ROC (G, H) [1-specificity, sensitivity] ----------------
const rocG1 = [[0,0],[0,0.05],[0.007,0.05],[0.007,0.086],[0.015,0.086],[0.015,0.122],[0.023,0.122],[0.023,0.157],[0.028,0.206],[0.038,0.206],[0.038,0.229],[0.044,0.256],[0.054,0.265],[0.054,0.309],[0.059,0.351],[0.085,0.351],[0.085,0.385],[0.116,0.385],[0.122,0.425],[0.125,0.461],[0.129,0.51],[0.137,0.528],[0.179,0.528],[0.189,0.546],[0.215,0.546],[0.22,0.564],[0.229,0.582],[0.34,0.582],[0.345,0.6],[0.397,0.6],[0.397,0.618],[0.418,0.618],[0.423,0.635],[0.433,0.649],[0.439,0.671],[0.465,0.671],[0.47,0.693],[0.475,0.707],[0.506,0.707],[0.522,0.743],[0.574,0.743],[0.579,0.792],[0.662,0.792],[0.667,0.81],[0.678,0.828],[0.683,0.845],[0.709,0.845],[0.714,0.877],[0.751,0.877],[0.756,0.899],[0.761,0.93],[0.818,0.93],[0.821,0.953],[0.86,0.971],[0.865,0.984],[0.904,0.984],[0.906,1],[1,1]];
const rocG3 = [[0,0],[0.002,0.023],[0.007,0.023],[0.007,0.081],[0.015,0.081],[0.015,0.162],[0.023,0.162],[0.026,0.229],[0.033,0.242],[0.038,0.256],[0.044,0.269],[0.049,0.296],[0.059,0.309],[0.064,0.323],[0.07,0.336],[0.075,0.354],[0.085,0.372],[0.09,0.381],[0.096,0.381],[0.106,0.385],[0.116,0.385],[0.122,0.403],[0.127,0.43],[0.137,0.434],[0.142,0.443],[0.153,0.457],[0.158,0.47],[0.168,0.479],[0.179,0.483],[0.21,0.483],[0.215,0.497],[0.22,0.506],[0.229,0.524],[0.241,0.524],[0.246,0.537],[0.262,0.537],[0.264,0.55],[0.283,0.555],[0.293,0.559],[0.335,0.559],[0.345,0.564],[0.356,0.573],[0.361,0.586],[0.366,0.6],[0.374,0.613],[0.382,0.626],[0.392,0.64],[0.397,0.671],[0.433,0.676],[0.449,0.68],[0.459,0.685],[0.465,0.693],[0.47,0.707],[0.48,0.72],[0.511,0.725],[0.517,0.747],[0.522,0.76],[0.527,0.774],[0.579,0.778],[0.582,0.805],[0.589,0.814],[0.6,0.819],[0.631,0.819],[0.634,0.836],[0.641,0.85],[0.649,0.856],[0.709,0.856],[0.714,0.868],[0.719,0.875],[0.73,0.879],[0.745,0.881],[0.751,0.899],[0.761,0.908],[0.771,0.917],[0.782,0.944],[0.813,0.948],[0.821,0.966],[0.886,0.966],[0.891,0.975],[0.917,0.979],[0.938,0.988],[0.953,1],[1,1]];
const rocG5 = [[0,0],[0,0.014],[0.018,0.014],[0.018,0.05],[0.035,0.05],[0.036,0.175],[0.054,0.175],[0.054,0.22],[0.073,0.22],[0.075,0.278],[0.09,0.278],[0.09,0.3],[0.108,0.3],[0.111,0.354],[0.127,0.354],[0.132,0.367],[0.166,0.367],[0.166,0.408],[0.205,0.408],[0.206,0.448],[0.22,0.457],[0.231,0.461],[0.246,0.466],[0.262,0.47],[0.283,0.472],[0.319,0.475],[0.335,0.481],[0.337,0.537],[0.356,0.537],[0.359,0.558],[0.376,0.559],[0.376,0.582],[0.413,0.584],[0.418,0.586],[0.433,0.595],[0.449,0.595],[0.454,0.622],[0.491,0.625],[0.496,0.631],[0.509,0.631],[0.509,0.685],[0.548,0.685],[0.548,0.716],[0.569,0.716],[0.569,0.743],[0.605,0.743],[0.607,0.774],[0.626,0.777],[0.683,0.777],[0.686,0.792],[0.704,0.794],[0.704,0.802],[0.719,0.805],[0.719,0.828],[0.732,0.828],[0.735,0.845],[0.761,0.847],[0.763,0.854],[0.78,0.854],[0.78,0.888],[0.818,0.888],[0.821,0.903],[0.839,0.903],[0.842,0.917],[0.898,0.917],[0.901,0.93],[0.917,0.93],[0.917,0.945],[0.938,0.945],[0.94,0.984],[0.958,0.984],[0.96,1],[1,1]];
const rocH1 = [[0,0],[0,0.04],[0.014,0.04],[0.016,0.103],[0.026,0.103],[0.029,0.121],[0.034,0.143],[0.045,0.143],[0.048,0.184],[0.061,0.184],[0.063,0.26],[0.071,0.282],[0.092,0.282],[0.097,0.3],[0.102,0.341],[0.13,0.341],[0.134,0.363],[0.141,0.381],[0.154,0.381],[0.158,0.403],[0.17,0.403],[0.172,0.444],[0.175,0.461],[0.181,0.481],[0.193,0.481],[0.194,0.502],[0.217,0.502],[0.22,0.522],[0.228,0.54],[0.238,0.54],[0.24,0.56],[0.272,0.56],[0.275,0.6],[0.332,0.6],[0.333,0.641],[0.377,0.641],[0.379,0.66],[0.395,0.66],[0.397,0.681],[0.402,0.701],[0.421,0.701],[0.423,0.721],[0.439,0.721],[0.442,0.741],[0.489,0.741],[0.492,0.76],[0.606,0.76],[0.609,0.802],[0.624,0.804],[0.624,0.82],[0.697,0.82],[0.699,0.84],[0.749,0.84],[0.754,0.86],[0.763,0.923],[0.913,0.923],[0.916,0.981],[0.948,0.981],[0.953,1],[1,1]];
const rocH3 = [[0,0],[0,0.018],[0.016,0.018],[0.016,0.049],[0.024,0.058],[0.032,0.081],[0.04,0.103],[0.047,0.116],[0.052,0.157],[0.055,0.184],[0.063,0.193],[0.071,0.202],[0.078,0.233],[0.087,0.233],[0.097,0.246],[0.108,0.269],[0.118,0.282],[0.126,0.309],[0.134,0.309],[0.141,0.327],[0.149,0.349],[0.16,0.354],[0.17,0.358],[0.181,0.367],[0.191,0.381],[0.201,0.394],[0.212,0.399],[0.222,0.421],[0.233,0.435],[0.238,0.47],[0.248,0.475],[0.264,0.479],[0.285,0.479],[0.295,0.493],[0.306,0.511],[0.327,0.515],[0.337,0.529],[0.348,0.538],[0.358,0.556],[0.374,0.569],[0.389,0.573],[0.395,0.587],[0.405,0.6],[0.415,0.618],[0.426,0.641],[0.436,0.681],[0.447,0.69],[0.457,0.703],[0.473,0.708],[0.494,0.708],[0.499,0.721],[0.515,0.73],[0.53,0.735],[0.541,0.744],[0.551,0.753],[0.567,0.766],[0.577,0.784],[0.588,0.789],[0.598,0.802],[0.64,0.802],[0.65,0.829],[0.666,0.851],[0.713,0.851],[0.723,0.869],[0.734,0.887],[0.739,0.901],[0.755,0.905],[0.796,0.914],[0.807,0.923],[0.875,0.923],[0.88,0.945],[0.899,0.945],[0.901,0.963],[0.922,0.968],[0.932,0.981],[0.948,0.995],[1,0.995],[1,1]];
const rocH5 = [[0,0],[0,0.013],[0.019,0.013],[0.019,0.04],[0.024,0.049],[0.032,0.058],[0.04,0.067],[0.045,0.076],[0.055,0.085],[0.057,0.134],[0.063,0.148],[0.068,0.193],[0.076,0.202],[0.087,0.206],[0.097,0.215],[0.105,0.228],[0.113,0.242],[0.118,0.255],[0.126,0.273],[0.149,0.278],[0.154,0.291],[0.165,0.3],[0.186,0.302],[0.189,0.327],[0.196,0.341],[0.212,0.349],[0.222,0.358],[0.225,0.372],[0.231,0.39],[0.235,0.408],[0.243,0.417],[0.269,0.421],[0.285,0.421],[0.306,0.426],[0.311,0.448],[0.327,0.457],[0.332,0.475],[0.348,0.479],[0.356,0.515],[0.368,0.52],[0.379,0.529],[0.387,0.551],[0.4,0.565],[0.41,0.578],[0.415,0.591],[0.421,0.6],[0.426,0.618],[0.436,0.641],[0.447,0.65],[0.462,0.654],[0.478,0.677],[0.489,0.69],[0.509,0.694],[0.515,0.708],[0.525,0.708],[0.53,0.73],[0.541,0.739],[0.546,0.757],[0.556,0.766],[0.572,0.771],[0.577,0.78],[0.624,0.78],[0.635,0.793],[0.64,0.802],[0.645,0.806],[0.682,0.811],[0.713,0.815],[0.723,0.829],[0.739,0.847],[0.749,0.851],[0.765,0.86],[0.786,0.869],[0.796,0.892],[0.859,0.892],[0.864,0.901],[0.885,0.909],[0.911,0.923],[0.916,0.936],[0.932,0.945],[0.953,0.954],[0.963,0.977],[0.99,0.981],[1,1]];
const aucG = ["AUC at 1 years: 0.698", "AUC at 3 years: 0.694", "AUC at 5 years: 0.631"];
const aucH = ["AUC at 1 years: 0.684", "AUC at 3 years: 0.650", "AUC at 5 years: 0.614"];
const rocTicks = [0, 0.2, 0.4, 0.6, 0.8, 1.0];

// ---------------- helpers ----------------
function plus(cx: number, cy: number, s: number) {
  return `M${cx - s},${cy}H${cx + s}M${cx},${cy - s}V${cy + s}`;
}
function stepAt(curve: number[][], t: number) {
  let v = curve[0][1];
  for (const p of curve) { if (p[0] <= t) v = p[1]; else break; }
  return v;
}

function KM({ c }: { c: any }) {
  const x = d3.scaleLinear().domain([0, c.ticks[c.ticks.length - 1]]).range(c.xRange);
  const y = d3.scaleLinear().domain([0, 1]).range(c.yRange);
  const area = d3.area<number[]>().x(d => x(d[0])).y0(d => y(d[1])).y1(d => y(d[2])).curve(d3.curveStepAfter);
  const line = d3.line<number[]>().x(d => x(d[0])).y(d => y(d[1])).curve(d3.curveStepAfter);
  const groups = [
    { col: RED, curve: c.high, ci: c.highCI, cens: c.highCens },
    { col: BLUE, curve: c.low, ci: c.lowCI, cens: c.lowCens },
  ];
  const L = c.leg;
  const fmt = d3.format(".2f");
  return (
    <g fontFamily={FONT}>
      <text x={c.letterX} y={32} fontSize={42}>{c.letter}</text>
      {groups.map((g, i) => <path key={"ci" + i} d={area(g.ci) || ""} fill={g.col} fillOpacity={0.3} />)}
      {groups.map((g, i) => <path key={"ln" + i} d={line(g.curve) || ""} fill="none" stroke={g.col} strokeWidth={2.6} />)}
      {groups.map((g, i) => g.cens.map((t: number, j: number) => (
        <path key={`c${i}-${j}`} d={plus(x(t), y(stepAt(g.curve, t)), 5)} stroke={g.col} strokeWidth={2} />
      )))}
      <line x1={c.axisX} x2={c.axisX} y1={c.yTop} y2={c.axisY} stroke="#000" strokeWidth={1.8} />
      <line x1={c.axisX} x2={c.xEnd} y1={c.axisY} y2={c.axisY} stroke="#000" strokeWidth={1.8} />
      {survTicks.map(v => (
        <g key={"yt" + v}>
          <line x1={c.axisX - 5} x2={c.axisX} y1={y(v)} y2={y(v)} stroke="#000" strokeWidth={1.5} />
          <text x={c.axisX - 10} y={y(v) + 7} fontSize={20} textAnchor="end">{fmt(v)}</text>
        </g>
      ))}
      {c.ticks.map((t: number) => (
        <g key={"xt" + t}>
          <line x1={x(t)} x2={x(t)} y1={c.axisY} y2={c.axisY + 5} stroke="#000" strokeWidth={1.5} />
          <text x={x(t)} y={c.axisY + 26} fontSize={20} textAnchor="middle">{t}</text>
        </g>
      ))}
      <text x={c.xlabCx} y={c.xlabY} fontSize={24} textAnchor="middle">Time(years)</text>
      <text transform={`translate(${c.ylabX},${c.ylabCy}) rotate(-90)`} fontSize={24} textAnchor="middle">Survival probability</text>
      <text x={c.pX} y={c.pY} fontSize={29}>{c.pText}</text>
      <text x={L.risk} y={L.cy + 6} fontSize={17}>Risk</text>
      {[{ bx: L.redBox, tx: L.high, col: RED, lab: "High risk" }, { bx: L.blueBox, tx: L.low, col: BLUE, lab: "Low risk" }].map(k => (
        <g key={k.lab}>
          <rect x={k.bx} y={L.cy - 14} width={28} height={28} fill={k.col} fillOpacity={0.3} />
          <line x1={k.bx} x2={k.bx + 28} y1={L.cy} y2={L.cy} stroke={k.col} strokeWidth={2.6} />
          <path d={plus(k.bx + 14, L.cy, 5)} stroke={k.col} strokeWidth={2} />
          <text x={k.tx} y={L.cy + 6} fontSize={17}>{k.lab}</text>
        </g>
      ))}
    </g>
  );
}

function RiskTable({ c }: { c: any }) {
  const x = d3.scaleLinear().domain([0, c.ticks[c.ticks.length - 1]]).range(c.xRange);
  return (
    <g fontFamily={FONT}>
      <text transform={`translate(${c.riskX},${c.riskCy}) rotate(-90)`} fontSize={24} textAnchor="middle">Risk</text>
      <line x1={c.axisX} x2={c.axisX} y1={c.yTop} y2={c.axisY} stroke="#000" strokeWidth={1.8} />
      <line x1={c.axisX} x2={c.xEnd} y1={c.axisY} y2={c.axisY} stroke="#000" strokeWidth={1.8} />
      {c.rows.map((r: any) => (
        <g key={r.label}>
          <line x1={c.axisX - 5} x2={c.axisX} y1={r.y} y2={r.y} stroke="#000" strokeWidth={1.5} />
          <text x={c.axisX - 11} y={r.y + 7} fontSize={21} fill={r.color} textAnchor="end">{r.label}</text>
          {r.vals.map((v: number, i: number) => (
            <text key={i} x={x(c.ticks[i])} y={r.y + 8} fontSize={22} textAnchor="middle">{v}</text>
          ))}
        </g>
      ))}
      {c.ticks.map((t: number) => (
        <g key={"t" + t}>
          <line x1={x(t)} x2={x(t)} y1={c.axisY} y2={c.axisY + 5} stroke="#000" strokeWidth={1.5} />
          <text x={x(t)} y={c.axisY + 25} fontSize={20} textAnchor="middle">{t}</text>
        </g>
      ))}
      <text x={c.xlabCx} y={c.axisY + 53} fontSize={24} textAnchor="middle">Time(years)</text>
    </g>
  );
}

function PCA({ c }: { c: any }) {
  const [l, r, t, b] = c.box;
  const x = d3.scaleLinear().domain(c.xDom).range([l, r]);
  const y = d3.scaleLinear().domain(c.yDom).range([b, t]);
  const pts: number[][] = [];
  const n = Math.max(c.high.length, c.low.length);
  for (let i = 0; i < n; i++) {
    if (c.high[i]) pts.push([c.high[i][0], c.high[i][1], 0]);
    if (c.low[i]) pts.push([c.low[i][0], c.low[i][1], 1]);
  }
  const G = "#333333";
  return (
    <g fontFamily={FONT}>
      <text x={c.letterX} y={700} fontSize={42}>{c.letter}</text>
      {pts.map((p, i) => <circle key={i} cx={x(p[0])} cy={y(p[1])} r={4.6} fill={p[2] ? BLUE : RED} />)}
      <rect x={l} y={t} width={r - l} height={b - t} fill="none" stroke={G} strokeWidth={1.3} />
      {c.xTicks.map((v: number, i: number) => (
        <g key={"x" + i}>
          <line x1={x(v)} x2={x(v)} y1={b} y2={b + 5} stroke={G} strokeWidth={1.3} />
          <text x={x(v)} y={b + 24} fontSize={19} fill="#4D4D4D" textAnchor="middle">{c.xLabels[i]}</text>
        </g>
      ))}
      {c.yTicks.map((v: number, i: number) => (
        <g key={"y" + i}>
          <line x1={l - 5} x2={l} y1={y(v)} y2={y(v)} stroke={G} strokeWidth={1.3} />
          <text x={l - 11} y={y(v) + 7} fontSize={19} fill="#4D4D4D" textAnchor="end">{c.yLabels[i]}</text>
        </g>
      ))}
      <text x={(l + r) / 2} y={1244} fontSize={22} textAnchor="middle">PC1</text>
      <text transform={`translate(${c.pc2X},${(t + b) / 2}) rotate(-90)`} fontSize={22} textAnchor="middle">PC2</text>
      <text x={c.legX} y={900} fontSize={22}>Risk</text>
      <circle cx={c.legDotX} cy={932} r={4.6} fill={RED} />
      <text x={c.legTextX} y={938} fontSize={17.5}>high</text>
      <circle cx={c.legDotX} cy={968} r={4.6} fill={BLUE} />
      <text x={c.legTextX} y={974} fontSize={17.5}>low</text>
    </g>
  );
}

function SurvScatter({ c }: { c: any }) {
  const [l, r, t, b] = c.box;
  const x = d3.scaleLinear().domain(c.xDom).range([l, r]);
  const y = d3.scaleLinear().domain(c.yDom).range([b, t]);
  const pts = [...c.dead.map((d: number[]) => [d[0], d[1], 0]), ...c.alive.map((d: number[]) => [d[0], d[1], 1])]
    .sort((a, bb) => a[0] - bb[0]);
  return (
    <g fontFamily={FONT}>
      <text x={c.letterX} y={1314} fontSize={44}>{c.letter}</text>
      {pts.map((p, i) => <circle key={i} cx={x(p[0])} cy={y(p[1])} r={6.8} fill={p[2] ? BLUE : RED} />)}
      <line x1={x(c.cut)} x2={x(c.cut)} y1={t} y2={b} stroke="#000" strokeWidth={1.6} strokeDasharray="6,6" />
      <rect x={l} y={t} width={r - l} height={b - t} fill="none" stroke="#000" strokeWidth={2} />
      {c.xTicks.map((v: number) => (
        <g key={"x" + v}>
          <line x1={x(v)} x2={x(v)} y1={b} y2={b + 12} stroke="#000" strokeWidth={1.6} />
          <text x={x(v)} y={1785} fontSize={24} textAnchor="middle">{v}</text>
        </g>
      ))}
      {c.yTicks.map((v: number) => (
        <g key={"y" + v}>
          <line x1={l - 12} x2={l} y1={y(v)} y2={y(v)} stroke="#000" strokeWidth={1.6} />
          <text transform={`translate(${c.tickLabX},${y(v)}) rotate(-90)`} fontSize={24} textAnchor="middle">{v}</text>
        </g>
      ))}
      <text x={(l + r) / 2} y={1840} fontSize={24} textAnchor="middle">Patients (increasing risk socre)</text>
      <text transform={`translate(${c.ylabX},${(t + b) / 2}) rotate(-90)`} fontSize={24} textAnchor="middle">Survival time (years)</text>
      <circle cx={c.legDotX} cy={1319} r={7} fill={RED} />
      <text x={c.legTextX} y={1328} fontSize={27}>Dead</text>
      <circle cx={c.legDotX} cy={1353} r={7} fill={BLUE} />
      <text x={c.legTextX} y={1362} fontSize={27}>Alive</text>
    </g>
  );
}

function ROC({ c }: { c: any }) {
  const [l, r, t, b] = c.box;
  const x = d3.scaleLinear().domain([-0.04, 1.04]).range([l, r]);
  const y = d3.scaleLinear().domain([-0.04, 1.04]).range([b, t]);
  const line = d3.line<number[]>().x(d => x(d[0])).y(d => y(d[1]));
  const curves = [{ d: c.c1, col: GREEN }, { d: c.c3, col: BLUE }, { d: c.c5, col: RED }];
  const fmt = d3.format(".1f");
  return (
    <g fontFamily={FONT}>
      <text x={c.letterX} y={1948} fontSize={44}>{c.letter}</text>
      <line x1={x(-0.04)} y1={y(-0.04)} x2={x(1.04)} y2={y(1.04)} stroke="#000" strokeWidth={1.5} strokeDasharray="5,5" />
      {curves.map((cv, i) => <path key={i} d={line(cv.d) || ""} fill="none" stroke={cv.col} strokeWidth={3} />)}
      <rect x={l} y={t} width={r - l} height={b - t} fill="none" stroke="#000" strokeWidth={2} />
      {rocTicks.map(v => (
        <g key={"x" + v}>
          <line x1={x(v)} x2={x(v)} y1={b} y2={b + 13} stroke="#000" strokeWidth={1.6} />
          <text x={x(v)} y={2419} fontSize={24} textAnchor="middle">{fmt(v)}</text>
          <line x1={l - 13} x2={l} y1={y(v)} y2={y(v)} stroke="#000" strokeWidth={1.6} />
          <text transform={`translate(${c.tickLabX},${y(v)}) rotate(-90)`} fontSize={24} textAnchor="middle">{fmt(v)}</text>
        </g>
      ))}
      <text x={(l + r) / 2} y={2476} fontSize={24} textAnchor="middle">1−Specificity</text>
      <text transform={`translate(${c.ylabX},${(t + b) / 2}) rotate(-90)`} fontSize={24} textAnchor="middle">Sensitivity</text>
      {curves.map((cv, i) => (
        <g key={"lg" + i}>
          <line x1={c.legLine[0]} x2={c.legLine[1]} y1={c.legY[i]} y2={c.legY[i]} stroke={cv.col} strokeWidth={3} />
          <text x={c.legTextX} y={c.legY[i] + 8.5} fontSize={24}>{c.labels[i]}</text>
        </g>
      ))}
    </g>
  );
}

// ---------------- panel configs ----------------
const kmA = {
  letter: "A", letterX: 37, ticks: yearsA, xRange: [167, 789], yRange: [372.7, 35],
  axisX: 135, axisY: 388, xEnd: 820, yTop: 18,
  high: kmHighA, low: kmLowA, highCI: ciHighA, lowCI: ciLowA, highCens: censHighA, lowCens: censLowA,
  pText: "p<0.001", pX: 179, pY: 313, ylabX: 32, ylabCy: 203, xlabCx: 478, xlabY: 440,
  leg: { risk: 368, redBox: 412, high: 451, blueBox: 530, low: 568, cy: 22 },
};
const kmB = {
  letter: "B", letterX: 884, ticks: yearsB, xRange: [1012.3, 1636.3], yRange: [373, 35],
  axisX: 981, axisY: 390, xEnd: 1663, yTop: 18,
  high: kmHighB, low: kmLowB, highCI: ciHighB, lowCI: ciLowB, highCens: censHighB, lowCens: censLowB,
  pText: "p=0.002", pX: 1026, pY: 313, ylabX: 877, ylabCy: 203, xlabCx: 1323, xlabY: 440,
  leg: { risk: 1214, redBox: 1258, high: 1296, blueBox: 1376, low: 1414, cy: 22 },
};
const tabA = {
  ticks: yearsA, xRange: [167, 789], axisX: 136, yTop: 505, axisY: 563, xEnd: 820,
  riskX: 35, riskCy: 533, xlabCx: 478,
  rows: [{ label: "High risk", color: RED, vals: riskHighA, y: 521 }, { label: "Low risk", color: BLUE, vals: riskLowA, y: 548 }],
};
const tabB = {
  ticks: yearsB, xRange: [1012.3, 1636.3], axisX: 982, yTop: 505, axisY: 563, xEnd: 1663,
  riskX: 880, riskCy: 533, xlabCx: 1323,
  rows: [{ label: "High risk", color: RED, vals: riskHighB, y: 521 }, { label: "Low risk", color: BLUE, vals: riskLowB, y: 548 }],
};
const pcaC = {
  letter: "C", letterX: 35, box: [113, 654, 672, 1195], xDom: [-6.74, 4.56], yDom: [-3.82, 3.13],
  xTicks: [-5, -2.5, 0, 2.5], xLabels: ["-5.0", "-2.5", "0.0", "2.5"], yTicks: [-2, 0, 2], yLabels: ["-2", "0", "2"],
  high: pcaHighC, low: pcaLowC, pc2X: 75, legX: 688, legDotX: 707, legTextX: 735,
};
const pcaD = {
  letter: "D", letterX: 884, box: [959, 1499, 672, 1195], xDom: [-4.08, 6.32], yDom: [-3.72, 3.3],
  xTicks: [-4, -2, 0, 2, 4, 6], xLabels: ["-4", "-2", "0", "2", "4", "6"], yTicks: [-2, 0, 2], yLabels: ["-2", "0", "2"],
  high: pcaHighD, low: pcaLowD, pc2X: 919, legX: 1534, legDotX: 1552, legTextX: 1580,
};
const scE = {
  letter: "E", letterX: 8, box: [108, 784, 1284.6, 1733], xDom: [-19, 520], yDom: [-0.8, 20.7],
  xTicks: [0, 100, 200, 300, 400, 500], yTicks: [0, 5, 10, 15, 20], cut: 250.5,
  dead: eDead, alive: eAlive, tickLabX: 77, ylabX: 17, legDotX: 133, legTextX: 160,
};
const scF = {
  letter: "F", letterX: 887, box: [955, 1628, 1285, 1732], xDom: [-16.6, 459.6], yDom: [-0.67, 17.5],
  xTicks: [0, 100, 200, 300, 400], yTicks: [0, 5, 10, 15], cut: 217,
  dead: fDead, alive: fAlive, tickLabX: 924, ylabX: 864, legDotX: 981, legTextX: 1007,
};
const rocGc = {
  letter: "G", letterX: 37, box: [171, 724, 1899, 2365], c1: rocG1, c3: rocG3, c5: rocG5,
  tickLabX: 139, ylabX: 75, legLine: [406, 452], legTextX: 473.6, legY: [2276.5, 2306, 2336], labels: aucG,
};
const rocHc = {
  letter: "H", letterX: 887, box: [1018, 1569, 1900, 2364], c1: rocH1, c3: rocH3, c5: rocH5,
  tickLabX: 986, ylabX: 922, legLine: [1252, 1298], legTextX: 1319, legY: [2276, 2306, 2335], labels: aucH,
};

export default function App() {
  return (
    <svg width={1663} height={2480} viewBox="0 0 1663 2480" xmlns="http://www.w3.org/2000/svg"
      style={{ position: "absolute", left: 0, top: 0, background: "#fff" }}>
      <rect x={0} y={0} width={1663} height={2480} fill="#fff" />
      <KM c={kmA} />
      <KM c={kmB} />
      <RiskTable c={tabA} />
      <RiskTable c={tabB} />
      <PCA c={pcaC} />
      <PCA c={pcaD} />
      <SurvScatter c={scE} />
      <SurvScatter c={scF} />
      <ROC c={rocGc} />
      <ROC c={rocHc} />
    </svg>
  );
}
